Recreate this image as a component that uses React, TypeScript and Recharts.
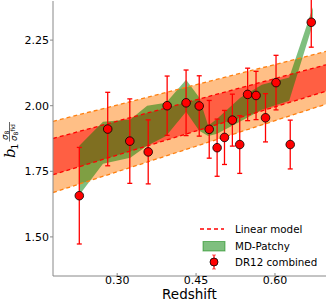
import { ComposedChart, Area, Line, Scatter, ErrorBar, XAxis, YAxis } from 'recharts';

const FONT = '"DejaVu Sans", sans-serif';

// DR12 combined measurements
const redshift = [0.228, 0.282, 0.324, 0.359, 0.395, 0.431, 0.456, 0.475, 0.49, 0.504, 0.519, 0.533, 0.548, 0.564, 0.582, 0.602, 0.629, 0.669];
const bias = [1.657, 1.911, 1.865, 1.824, 2.0, 2.011, 1.999, 1.91, 1.84, 1.879, 1.945, 1.852, 2.043, 2.039, 1.954, 2.088, 1.852, 2.318];
const biasErr = [0.184, 0.14, 0.161, 0.122, 0.113, 0.125, 0.115, 0.11, 0.109, 0.103, 0.099, 0.11, 0.1, 0.092, 0.092, 0.104, 0.093, 0.095];

// linear model bands (values at the axis edges)
const modelZ = [0.178, 0.697];
const outerLow = [1.669, 2.006];
const outerHigh = [1.94, 2.207];
const innerLow = [1.737, 2.055];
const innerHigh = [1.875, 2.156];

// MD-Patchy band
const patchyZ = [0.228, 0.273, 0.325, 0.357, 0.393, 0.431, 0.456, 0.473, 0.49, 0.534, 0.575, 0.627, 0.672];
const patchyLow = [1.66, 1.779, 1.802, 1.847, 1.885, 1.977, 1.905, 1.885, 1.893, 1.94, 1.985, 2.019, 2.31];
const patchyHigh = [1.847, 1.939, 1.947, 2.0, 2.011, 2.099, 2.031, 1.924, 1.95, 2.03, 2.08, 2.107, 2.375];

const xTicks = [0.3, 0.45, 0.6];
const yTicks = [1.5, 1.75, 2.0, 2.25];
const xDomain = [0.178, 0.697];
const yDomain = [1.351, 2.399];

const points = redshift.map((z, i) => ({ z, b: bias[i], err: biasErr[i] }));
const model = modelZ.map((z, i) => ({
  z,
  outer: [outerLow[i], outerHigh[i]],
  inner: [innerLow[i], innerHigh[i]],
  oLow: outerLow[i],
  oHigh: outerHigh[i],
  iLow: innerLow[i],
  iHigh: innerHigh[i],
}));
const patchy = patchyZ.map((z, i) => ({ z, band: [patchyLow[i], patchyHigh[i]] }));

const fmt = (v: number) => v.toFixed(2);

const Dot = (props: any) => (
  <circle cx={props.cx} cy={props.cy} r={4.3} fill="#ff0000" stroke="#000" strokeWidth={0.8} />
);

const YLabel = () => (
  <g transform="translate(15,140) rotate(-90)" fontFamily={FONT} fill="#000">
    <text x={-18} y={0} fontSize={15} fontStyle="italic" fontFamily="DejaVu Serif">b</text>
    <text x={-9.5} y={3} fontSize={9}>1</text>
    <text x={0} y={-7.5} fontSize={8.5} fontStyle="italic">σ<tspan fontSize={6} fontStyle="normal" dy={1.5}>8</tspan></text>
    <line x1={-1.5} x2={18} y1={-5.5} y2={-5.5} stroke="#000" strokeWidth={0.6} />
    <text x={-1} y={1.8} fontSize={8.5} fontStyle="italic">σ<tspan fontSize={6} fontStyle="normal" dy={1.5}>8</tspan><tspan fontSize={6} fontStyle="normal" dy={-3}>fid</tspan></text>
  </g>
);

const LegendBox = () => (
  <svg width={133} height={56} style={{ position: 'absolute', left: 195, top: 218 }} fontFamily={FONT}>
    <line x1={5} x2={29} y1={11} y2={11} stroke="#ff0000" strokeWidth={1.5} strokeDasharray="4 3" />
    <text x={40} y={11} fontSize={10.3} dominantBaseline="central">Linear model</text>
    <rect x={8} y={23.5} width={22} height={9.5} fill="#008000" fillOpacity={0.5} stroke="#008000" strokeOpacity={0.5} />
    <text x={40} y={28} fontSize={10.3} dominantBaseline="central">MD-Patchy</text>
    <line x1={19} x2={19} y1={37} y2={51} stroke="#ff0000" strokeWidth={1.2} />
    <line x1={17} x2={21} y1={37} y2={37} stroke="#ff0000" strokeOpacity={0.6} />
    <line x1={17} x2={21} y1={51} y2={51} stroke="#ff0000" strokeOpacity={0.6} />
    <circle cx={19} cy={44} r={4} fill="#ff0000" stroke="#000" strokeWidth={0.8} />
    <text x={40} y={44} fontSize={10.3} dominantBaseline="central">DR12 combined</text>
  </svg>
);

export default function App() {
  return (
    <div style={{ position: 'absolute', left: 0, top: 0, width: 328, height: 301, background: '#fff' }}>
      <ComposedChart width={328} height={301} margin={{ top: 1, right: 2, left: 0, bottom: 0 }}>
        <XAxis
          dataKey="z"
          type="number"
          domain={xDomain}
          ticks={xTicks}
          tickFormatter={fmt}
          allowDataOverflow
          height={25}
          stroke="#888"
          tickSize={-3}
          tickMargin={3}
          tick={{ fill: '#000', fontSize: 11, fontFamily: FONT }}
          label={{ value: 'Redshift', position: 'insideBottom', offset: 2, fontSize: 13.5, fill: '#000', fontFamily: FONT }}
        />
        <XAxis
          xAxisId="top"
          orientation="top"
          dataKey="z"
          type="number"
          domain={xDomain}
          ticks={xTicks}
          allowDataOverflow
          height={0}
          mirror
          tickSize={3}
          tickFormatter={() => ''}
          stroke="#000"
        />
        <YAxis
          type="number"
          domain={yDomain}
          ticks={yTicks}
          tickFormatter={fmt}
          allowDataOverflow
          width={53}
          stroke="#888"
          tickSize={3}
          tickMargin={1}
          tick={{ fill: '#000', fontSize: 11, fontFamily: FONT }}
          label={<YLabel />}
        />
        <YAxis
          yAxisId="right"
          orientation="right"
          type="number"
          domain={yDomain}
          ticks={yTicks}
          allowDataOverflow
          width={0}
          mirror
          tickSize={3}
          tickFormatter={() => ''}
          stroke="#000"
        />
        <Area data={model} dataKey="outer" type="linear" fill="#ff7f0e" fillOpacity={0.5} stroke="none" isAnimationActive={false} />
        <Area data={model} dataKey="inner" type="linear" fill="#ff0000" fillOpacity={0.5} stroke="none" isAnimationActive={false} />
        <Area data={patchy} dataKey="band" type="linear" fill="#008000" fillOpacity={0.5} stroke="none" isAnimationActive={false} />
        <Line data={model} dataKey="oLow" type="linear" stroke="#ff7f0e" strokeWidth={1.3} strokeDasharray="4 3" dot={false} isAnimationActive={false} />
        <Line data={model} dataKey="oHigh" type="linear" stroke="#ff7f0e" strokeWidth={1.3} strokeDasharray="4 3" dot={false} isAnimationActive={false} />
        <Line data={model} dataKey="iLow" type="linear" stroke="#ff0000" strokeWidth={1.3} strokeDasharray="4 3" dot={false} isAnimationActive={false} />
        <Line data={model} dataKey="iHigh" type="linear" stroke="#ff0000" strokeWidth={1.3} strokeDasharray="4 3" dot={false} isAnimationActive={false} />
        <Scatter data={points} dataKey="b" shape={Dot} isAnimationActive={false}>
          <ErrorBar dataKey="err" direction="y" width={2.5} stroke="#ff0000" strokeWidth={1.3} isAnimationActive={false} />
        </Scatter>
      </ComposedChart>
      <LegendBox />
    </div>
  );
}
